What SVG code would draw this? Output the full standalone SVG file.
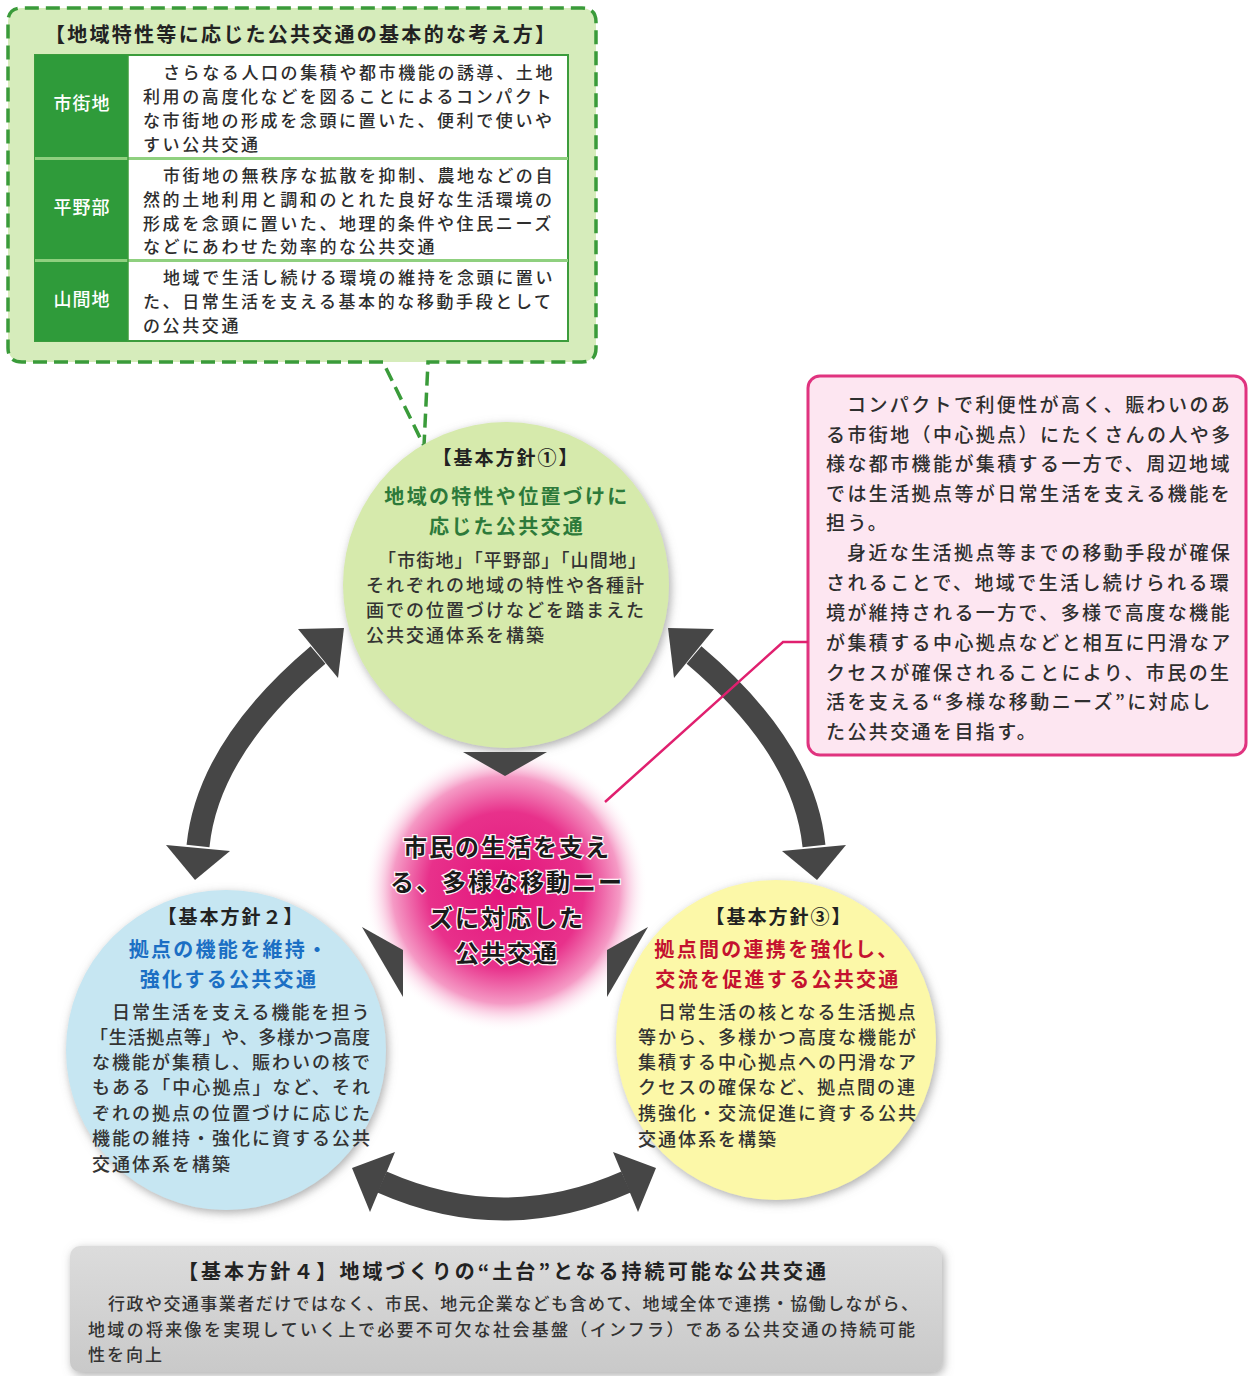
<svg xmlns="http://www.w3.org/2000/svg" width="1251" height="1376" viewBox="0 0 1251 1376">
<defs>
<style>
text{font-family:"Noto Sans CJK JP","Noto Sans CJK SC",sans-serif;}
.tb{font-size:17px;letter-spacing:2.6px;fill:#2e2e2e;font-weight:500;}
.lab{font-size:18px;fill:#fff;text-anchor:middle;letter-spacing:1px;font-weight:500;}
.pk{font-size:19px;letter-spacing:2.4px;fill:#2e2e2e;font-weight:500;}
.hd{font-size:19px;font-weight:bold;fill:#222;text-anchor:middle;letter-spacing:2px;}
.ti{font-size:20px;font-weight:bold;text-anchor:middle;letter-spacing:2.3px;}
.bd{font-size:18px;letter-spacing:2px;fill:#333;font-weight:500;}
.ct{font-size:24px;font-weight:bold;fill:#1a1a1a;text-anchor:middle;letter-spacing:2px;stroke:#fff3f8;stroke-width:2.5px;paint-order:stroke;}
.gb{font-size:17px;fill:#333;font-weight:500;}
.arr{fill:none;stroke:#464646;stroke-width:23;}
.ah{fill:#464646;}
</style>
<filter id="sh" x="-20%" y="-20%" width="140%" height="140%">
<feDropShadow dx="2" dy="3" stdDeviation="5" flood-color="#777" flood-opacity="0.6"/>
</filter>
<radialGradient id="cg" cx="0.5" cy="0.5" r="0.5">
<stop offset="0" stop-color="#e3137b"/>
<stop offset="0.55" stop-color="#e8318b"/>
<stop offset="0.8" stop-color="#f59ac5"/>
<stop offset="1" stop-color="#ffffff" stop-opacity="0"/>
</radialGradient>
<linearGradient id="gg" x1="0" y1="0" x2="0" y2="1">
<stop offset="0" stop-color="#dcdcdc"/>
<stop offset="1" stop-color="#c9c9c9"/>
</linearGradient>
</defs>
<rect width="1251" height="1376" fill="#fff"/>

<g id="top-box">
<rect x="8" y="8" width="588" height="354" rx="14" fill="#d6ecbb"/>
<path d="M383,362 L22,362 Q8,362 8,348 L8,22 Q8,8 22,8 L582,8 Q596,8 596,22 L596,348 Q596,362 582,362 L428,362 L424,446 Z" fill="none" stroke="#3a9b3a" stroke-width="3.5" stroke-dasharray="14 7"/>
<text x="300" y="42" font-size="20" font-weight="bold" fill="#222" text-anchor="middle" textLength="510" lengthAdjust="spacing">【地域特性等に応じた公共交通の基本的な考え方】</text>
<rect x="35" y="55" width="533" height="286" fill="#fff" stroke="#3c9c3c" stroke-width="2"/>
<rect x="35" y="55" width="93" height="286" fill="#2f9b3a"/>
<line x1="35" y1="158.5" x2="568" y2="158.5" stroke="#8fd07f" stroke-width="3"/>
<line x1="35" y1="260.5" x2="568" y2="260.5" stroke="#8fd07f" stroke-width="3"/>
<line x1="128" y1="55" x2="128" y2="341" stroke="#3c9c3c" stroke-width="1.5"/>
<text class="lab" x="82" y="110">市街地</text>
<text class="lab" x="82" y="214">平野部</text>
<text class="lab" x="82" y="306">山間地</text>
<text class="tb" x="163" y="79">さらなる人口の集積や都市機能の誘導、土地</text>
<text class="tb" x="143" y="103">利用の高度化などを図ることによるコンパクト</text>
<text class="tb" x="143" y="127">な市街地の形成を念頭に置いた、便利で使いや</text>
<text class="tb" x="143" y="151">すい公共交通</text>
<text class="tb" x="163" y="182">市街地の無秩序な拡散を抑制、農地などの自</text>
<text class="tb" x="143" y="206">然的土地利用と調和のとれた良好な生活環境の</text>
<text class="tb" x="143" y="230">形成を念頭に置いた、地理的条件や住民ニーズ</text>
<text class="tb" x="143" y="253">などにあわせた効率的な公共交通</text>
<text class="tb" x="163" y="284">地域で生活し続ける環境の維持を念頭に置い</text>
<text class="tb" x="143" y="308">た、日常生活を支える基本的な移動手段として</text>
<text class="tb" x="143" y="332">の公共交通</text>
</g>

<g id="center">
<circle cx="506" cy="890" r="142" fill="url(#cg)"/>
<text class="ct" x="507" y="856">市民の生活を支え</text>
<text class="ct" x="507" y="891">る、多様な移動ニー</text>
<text class="ct" x="507" y="927">ズに対応した</text>
<text class="ct" x="507" y="962">公共交通</text>
</g>

<g id="policy1">
<circle cx="506" cy="585" r="163" fill="#d6eaac" filter="url(#sh)"/>
<text class="hd" x="506" y="465">【基本方針①】</text>
<text class="ti" x="507" y="504" fill="#2d7a3a">地域の特性や位置づけに</text>
<text class="ti" x="507" y="534" fill="#2d7a3a">応じた公共交通</text>
<text class="bd" x="378" y="567" textLength="270" lengthAdjust="spacing">「市街地」「平野部」「山間地」</text>
<text class="bd" x="366" y="592">それぞれの地域の特性や各種計</text>
<text class="bd" x="366" y="617">画での位置づけなどを踏まえた</text>
<text class="bd" x="366" y="642">公共交通体系を構築</text>
</g>

<g id="policy2">
<circle cx="226" cy="1050" r="160" fill="#c6e6f2" filter="url(#sh)"/>
<text class="hd" x="231" y="924">【基本方針２】</text>
<text class="ti" x="229" y="957" fill="#1b6fc4">拠点の機能を維持・</text>
<text class="ti" x="229" y="987" fill="#1b6fc4">強化する公共交通</text>
<text class="bd" x="112" y="1019">日常生活を支える機能を担う</text>
<text class="bd" x="90" y="1044" textLength="282" lengthAdjust="spacing">「生活拠点等」や、多様かつ高度</text>
<text class="bd" x="92" y="1069">な機能が集積し、賑わいの核で</text>
<text class="bd" x="92" y="1094" textLength="280" lengthAdjust="spacing">もある「中心拠点」など、それ</text>
<text class="bd" x="92" y="1120">ぞれの拠点の位置づけに応じた</text>
<text class="bd" x="92" y="1145">機能の維持・強化に資する公共</text>
<text class="bd" x="92" y="1171">交通体系を構築</text>
</g>

<g id="policy3">
<circle cx="776" cy="1040" r="160" fill="#fcf8a8" filter="url(#sh)"/>
<text class="hd" x="779" y="924">【基本方針③】</text>
<text class="ti" x="777" y="957" fill="#c4122f">拠点間の連携を強化し、</text>
<text class="ti" x="778" y="987" fill="#c4122f">交流を促進する公共交通</text>
<text class="bd" x="658" y="1019">日常生活の核となる生活拠点</text>
<text class="bd" x="638" y="1044">等から、多様かつ高度な機能が</text>
<text class="bd" x="638" y="1069">集積する中心拠点への円滑なア</text>
<text class="bd" x="638" y="1094">クセスの確保など、拠点間の連</text>
<text class="bd" x="638" y="1120">携強化・交流促進に資する公共</text>
<text class="bd" x="638" y="1146">交通体系を構築</text>
</g>

<g id="note-box">
<rect x="808" y="376" width="438" height="379" rx="12" fill="#fde6f1" stroke="#e0337f" stroke-width="3"/>
<text class="pk" x="847" y="412">コンパクトで利便性が高く、賑わいのあ</text>
<text class="pk" x="826" y="442">る市街地（中心拠点）にたくさんの人や多</text>
<text class="pk" x="826" y="471">様な都市機能が集積する一方で、周辺地域</text>
<text class="pk" x="826" y="501">では生活拠点等が日常生活を支える機能を</text>
<text class="pk" x="826" y="530">担う。</text>
<text class="pk" x="847" y="560">身近な生活拠点等までの移動手段が確保</text>
<text class="pk" x="826" y="590">されることで、地域で生活し続けられる環</text>
<text class="pk" x="826" y="620">境が維持される一方で、多様で高度な機能</text>
<text class="pk" x="826" y="650">が集積する中心拠点などと相互に円滑なア</text>
<text class="pk" x="826" y="680">クセスが確保されることにより、市民の生</text>
<text class="pk" x="826" y="709">活を支える“多様な移動ニーズ”に対応し</text>
<text class="pk" x="826" y="739">た公共交通を目指す。</text>
</g>

<g id="policy4">
<rect x="70" y="1246" width="872" height="126" rx="10" fill="url(#gg)" filter="url(#sh)"/>
<text x="502" y="1279" font-size="20" font-weight="bold" fill="#222" text-anchor="middle" textLength="648" lengthAdjust="spacing">【基本方針４】地域づくりの“土台”となる持続可能な公共交通</text>
<text class="gb" x="108" y="1310" textLength="810" lengthAdjust="spacing">行政や交通事業者だけではなく、市民、地元企業なども含めて、地域全体で連携・協働しながら、</text>
<text class="gb" x="88" y="1336" textLength="827" lengthAdjust="spacing">地域の将来像を実現していく上で必要不可欠な社会基盤（インフラ）である公共交通の持続可能</text>
<text class="gb" x="88" y="1361" letter-spacing="2">性を向上</text>
</g>

<g id="connectors">
<path class="arr" d="M318,655 Q208,748 198,846"/>
<polygon class="ah" points="344,628 298,629 338,678"/>
<polygon class="ah" points="166,845 230,851 195,880"/>
<path class="arr" d="M694,655 Q804,748 814,846"/>
<polygon class="ah" points="668,628 714,629 674,678"/>
<polygon class="ah" points="846,845 782,851 817,880"/>
<path class="arr" d="M382,1182 Q504,1236 626,1182"/>
<polygon class="ah" points="352,1168 395,1152 370,1212"/>
<polygon class="ah" points="656,1168 613,1152 638,1212"/>
<polygon class="ah" points="463,752 547,752 505,776"/>
<polygon class="ah" points="362,927 403,997 403,950"/>
<polygon class="ah" points="648,927 607,997 607,950"/>
<polyline points="605,802 783,642 808,642" fill="none" stroke="#e0206f" stroke-width="2.5"/>
</g>
</svg>
